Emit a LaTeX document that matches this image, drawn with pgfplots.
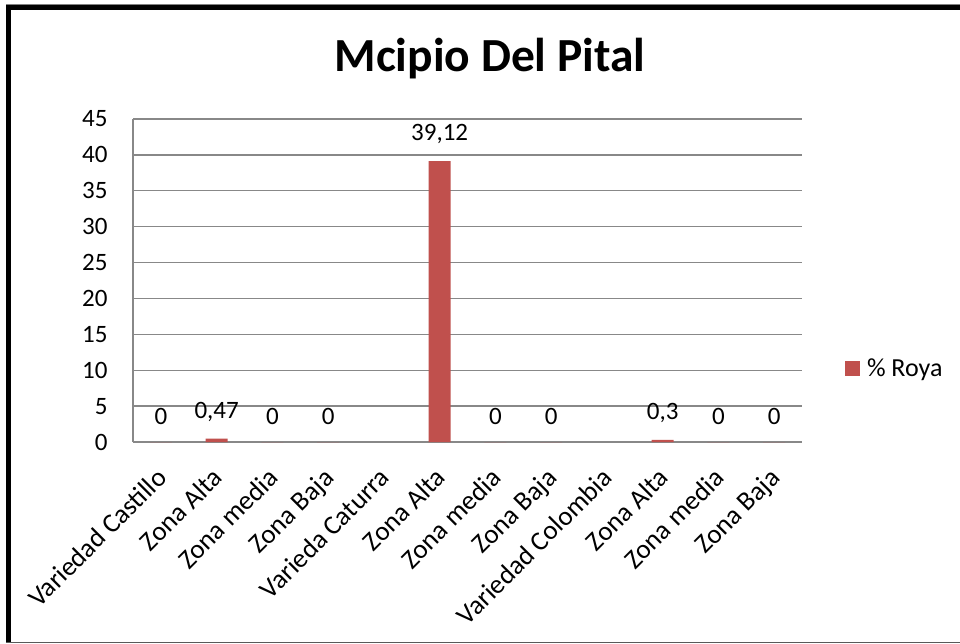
\documentclass[border=0pt]{standalone}
\usepackage{pgfplots}
\pgfplotsset{compat=1.18}
\usepackage{fontspec}
\setmainfont{Carlito}
\definecolor{barred}{HTML}{C0504D}
\definecolor{gridgray}{HTML}{888888}
\begin{document}
\begin{tikzpicture}[x=1pt,y=1pt]
\useasboundingbox (0,0) rectangle (960,643);
\fill[white] (0,0) rectangle (960,643);
% frame
\fill[gray] (6,638) rectangle (960,639);
\fill[black] (6,633) rectangle (960,638);
\fill[black] (6,0) rectangle (11,638);
\fill[gray!70!black] (6,0) rectangle (960,1.4);
\node[font=\fontsize{47.5}{56}\selectfont\bfseries, anchor=base] at (490,571) {Mcipio Del Pital};
\begin{axis}[
  at={(133pt,201pt)}, anchor=south west,
  scale only axis, width=669pt, height=323pt,
  xmin=0.5, xmax=12.5, ymin=0, ymax=45,
  ytick={0,5,...,45},
  xtick={1,...,12},
  xticklabels={Variedad Castillo, Zona Alta, Zona media, Zona Baja, Varieda Caturra, Zona Alta, Zona media, Zona Baja, Variedad Colombia, Zona Alta, Zona media, Zona Baja},
  /pgf/number format/assume math mode=true,
  tick style={draw=none},
  major tick length=0pt,
  ymajorgrids, grid style={gridgray, line width=1.3pt},
  axis x line*=bottom, axis y line*=left,
  axis line style={gridgray, line width=1.3pt, -},
  yticklabel style={font=\fontsize{25}{30}\selectfont, xshift=-22pt},
  xticklabel style={font=\fontsize{27}{32}\selectfont, xshift=-6pt, yshift=-24pt, rotate=45, anchor=north east, inner sep=0pt},
  ybar, bar width=22pt, bar shift=0pt,
  point meta=explicit symbolic,
  nodes near coords,
  every node near coord/.append style={font=\fontsize{25}{30}\selectfont, anchor=south, inner sep=0pt, yshift=17pt, text=black},
  legend style={at={(axis description cs:1.064,0.229)}, anchor=west, draw=none, fill=none, font=\fontsize{26}{30}\selectfont, inner sep=0pt},
  legend image code/.code={\fill[barred] (0pt,-7.5pt) rectangle (15pt,7.5pt);},
]
\addplot[fill=barred, draw=none] table[meta=lab] {
x y lab
1 0 0
2 0.47 0,47
3 0 0
4 0 0
6 39.12 39,12
7 0 0
8 0 0
10 0.3 0,3
11 0 0
12 0 0
};
\addlegendentry{\hspace{5pt}\% Roya}
\end{axis}
\end{tikzpicture}
\end{document}
